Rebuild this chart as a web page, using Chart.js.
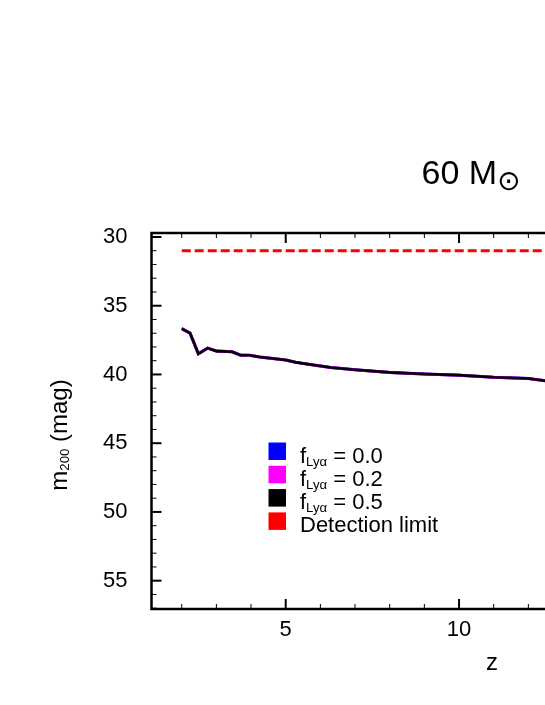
<!DOCTYPE html>
<html>
<head>
<meta charset="utf-8">
<script src="https://cdn.jsdelivr.net/npm/chart.js@4.4.1/dist/chart.umd.min.js"></script>
<style>
    html, body { margin: 0; padding: 0; background: #ffffff; overflow: hidden; }
    #massChart { display: block; }
</style>
</head>
<body>
<canvas id="massChart" width="545" height="705"></canvas>
<script>
/////////////////////////////// Data //////////////////////////////////
const redshift = [2.0, 2.24, 2.48, 2.75, 3.0, 3.45, 3.7, 3.95, 4.25, 5.0, 5.3, 5.75, 6.3, 7.0, 8.0, 9.0, 10.0, 11.0, 12.0, 12.5];
const magF00 = [36.67, 36.99, 38.5, 38.08, 38.3, 38.35, 38.6, 38.6, 38.73, 38.95, 39.12, 39.29, 39.49, 39.66, 39.85, 39.97, 40.05, 40.2, 40.29, 40.46];
const magF02 = [36.67, 36.99, 38.5, 38.08, 38.3, 38.35, 38.6, 38.6, 38.73, 38.95, 39.12, 39.29, 39.49, 39.66, 39.85, 39.97, 40.05, 40.2, 40.29, 40.46];
const magF05 = [36.67, 36.99, 38.5, 38.08, 38.3, 38.35, 38.6, 38.6, 38.73, 38.95, 39.12, 39.29, 39.49, 39.66, 39.85, 39.97, 40.05, 40.2, 40.29, 40.46];
const limitZ = [2.0, 20.0];
const limitMag = [31.0, 31.0];

const seriesNames = ['f_{Lyα} = 0.0', 'f_{Lyα} = 0.2', 'f_{Lyα} = 0.5', 'Detection limit'];
const seriesColors = ['#0000ff', '#ff00ff', '#000000', '#ff0000'];

const xTicks = [5, 10];
const xMinorTicks = [2, 3, 4, 6, 7, 8, 9, 11, 12];
const yTicks = [30, 35, 40, 45, 50, 55];
const yMinorTicks = [31, 32, 33, 34, 36, 37, 38, 39, 41, 42, 43, 44, 46, 47, 48, 49, 51, 52, 53, 54, 56, 57];

const chartTitle = '60 M_{⊙}';
const xTitle = 'z';
const yTitle = 'm_{200} (mag)';

const FONT = '"Liberation Sans", Arial, "DejaVu Sans", sans-serif';

/////////////////////////////// Rich text (gnuplot style subscripts) //////////////////////////////////
const parseRich = (str) => {
    const parts = [];
    const re = /_\{([^}]*)\}/g;
    let last = 0, m;
    while ((m = re.exec(str))) {
        if (m.index > last) parts.push({ text: str.slice(last, m.index), sub: false });
        parts.push({ text: m[1], sub: true });
        last = re.lastIndex;
    }
    if (last < str.length) parts.push({ text: str.slice(last), sub: false });
    return parts;
};

const drawRich = (ctx, str, x, y, size, opts = {}) => {
    const subSize = size * (opts.subScale || 0.6);
    const subShift = size * (opts.subShift || 0.15);
    const parts = parseRich(str);
    let width = 0;
    parts.forEach(p => {
        ctx.font = `${p.sub ? subSize : size}px ${FONT}`;
        p.w = ctx.measureText(p.text).width;
        width += p.w;
    });
    let cx = opts.align === 'center' ? x - width / 2 : x;
    ctx.textAlign = 'left';
    ctx.textBaseline = 'alphabetic';
    ctx.fillStyle = '#000000';
    parts.forEach(p => {
        ctx.font = `${p.sub ? subSize : size}px ${FONT}`;
        ctx.fillText(p.text, cx, p.sub ? y + subShift : y);
        cx += p.w;
    });
};

/////////////////////////////// Frame, ticks, labels, legend //////////////////////////////////
const gnuplotFrame = {
    id: 'gnuplotFrame',
    afterDraw(chart) {
        const { ctx, chartArea: a, scales: { x, y } } = chart;
        ctx.save();
        ctx.strokeStyle = '#000000';

        const seg = (x1, y1, x2, y2) => { ctx.beginPath(); ctx.moveTo(x1, y1); ctx.lineTo(x2, y2); ctx.stroke(); };

        ctx.lineWidth = 1;
        xMinorTicks.forEach(v => {
            const px = x.getPixelForValue(v);
            seg(px, a.top, px, a.top + 5);
            seg(px, a.bottom, px, a.bottom - 5);
        });
        yMinorTicks.forEach(v => {
            const py = y.getPixelForValue(v);
            seg(a.left, py, a.left + 5, py);
        });

        ctx.lineWidth = 2;
        xTicks.forEach(v => {
            const px = x.getPixelForValue(v);
            seg(px, a.top, px, a.top + 10);
            seg(px, a.bottom, px, a.bottom - 10);
        });
        yTicks.forEach(v => {
            const py = y.getPixelForValue(v);
            seg(a.left, py, a.left + 10, py);
        });

        ctx.lineWidth = 2.5;
        ctx.beginPath();
        ctx.moveTo(a.right + 5, a.top);
        ctx.lineTo(a.left, a.top);
        ctx.lineTo(a.left, a.bottom);
        ctx.lineTo(a.right + 5, a.bottom);
        ctx.stroke();

        // titles
        drawRich(ctx, chartTitle, 421.5, 183.5, 34, { subScale: 0.82, subShift: 0.2 });
        drawRich(ctx, xTitle, 492, 670, 24, { align: 'center' });

        ctx.save();
        ctx.translate(67, 435);
        ctx.rotate(-Math.PI / 2);
        drawRich(ctx, yTitle, 0, 0, 24, { align: 'center', subScale: 0.55, subShift: 0.08 });
        ctx.restore();

        // legend
        seriesNames.forEach((name, i) => {
            const top = 442.5 + i * 23.3;
            ctx.fillStyle = seriesColors[i];
            ctx.fillRect(268.5, top, 17.5, 17.5);
            drawRich(ctx, name, 300, top + 20, 22, { subScale: 0.6, subShift: 0.15 });
        });

        ctx.restore();
    }
};

/////////////////////////////// LineChart //////////////////////////////////
const toPoints = (xs, ys) => xs.map((v, i) => ({ x: v, y: ys[i] }));

const ctx = document.getElementById('massChart').getContext('2d');

new Chart(ctx, {
    type: 'line',
    data: {
        datasets: [
            { label: seriesNames[0], data: toPoints(redshift, magF00), borderColor: seriesColors[0], borderWidth: 3, pointRadius: 0, tension: 0, order: 3 },
            { label: seriesNames[1], data: toPoints(redshift, magF02), borderColor: seriesColors[1], borderWidth: 3, pointRadius: 0, tension: 0, order: 2 },
            { label: seriesNames[2], data: toPoints(redshift, magF05), borderColor: seriesColors[2], borderWidth: 2.6, pointRadius: 0, tension: 0, order: 1 },
            { label: seriesNames[3], data: toPoints(limitZ, limitMag), borderColor: seriesColors[3], borderWidth: 2.8, borderDash: [9, 4], pointRadius: 0, tension: 0, order: 0 }
        ]
    },
    options: {
        responsive: false,
        animation: false,
        layout: { padding: { top: 233, left: 0, right: 0, bottom: 0 } },
        scales: {
            x: {
                type: 'linear',
                min: 1.128,
                max: 12.48,
                afterBuildTicks: (s) => { s.ticks = xTicks.map(v => ({ value: v })); },
                afterFit: (s) => { s.height = 96; },
                grid: { display: false, drawTicks: false },
                border: { display: false },
                ticks: { color: '#000000', font: { family: FONT, size: 22 }, padding: 8, maxRotation: 0 }
            },
            y: {
                type: 'linear',
                reverse: true,
                min: 29.71,
                max: 57.06,
                afterBuildTicks: (s) => { s.ticks = yTicks.map(v => ({ value: v })); },
                afterFit: (s) => { s.width = 151.5; },
                grid: { display: false, drawTicks: false },
                border: { display: false },
                ticks: { color: '#000000', font: { family: FONT, size: 22 }, padding: 24 }
            }
        },
        plugins: {
            legend: { display: false },
            tooltip: { enabled: false }
        }
    },
    plugins: [gnuplotFrame]
});
</script>
</body>
</html>
